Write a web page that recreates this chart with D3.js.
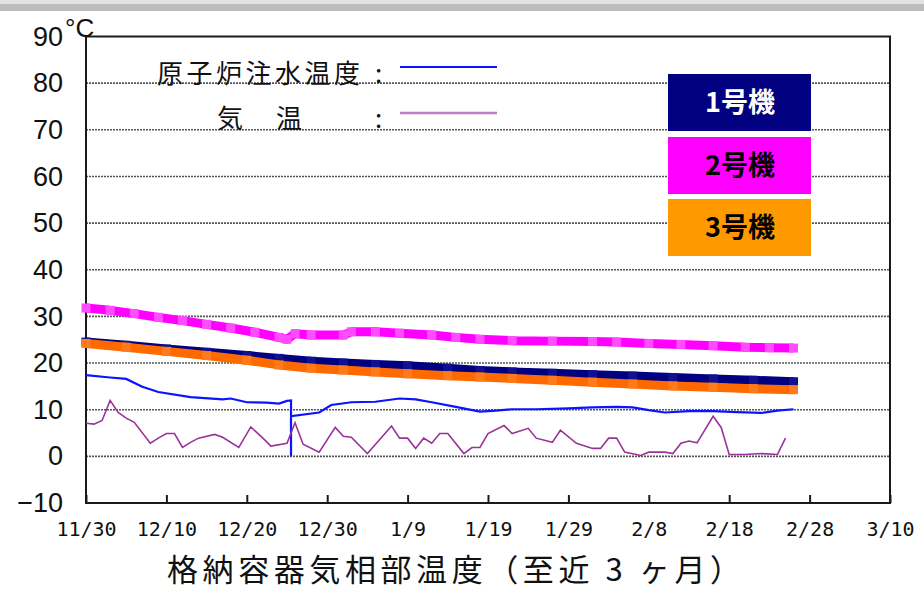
<!DOCTYPE html>
<html>
<head>
<meta charset="utf-8">
<script src="https://cdn.jsdelivr.net/npm/d3@7"></script>
<style>
    body { margin: 0; background: #fff; }
    svg { display: block; }
</style>
</head>
<body>
<div id="chart"></div>
<script>

// days counted from 11/30
var tickDays = [0, 10, 20, 30, 40, 50, 60, 70, 80, 90, 100];
var tickLabels = ["11/30", "12/10", "12/20", "12/30", "1/9", "1/19", "1/29", "2/8", "2/18", "2/28", "3/10"];
var yTicks = [90, 80, 70, 60, 50, 40, 30, 20, 10, 0, -10];

var unitNames = ["1号機", "2号機", "3号機"];

// [day, degC]
var unit1 = [[0, 24.5], [5, 23.8], [10, 23.0], [15, 22.3], [20, 21.6], [24, 21.0], [28, 20.4], [32, 20.0],
    [36, 19.7], [40, 19.4], [45, 18.9], [49, 18.4], [53, 18.1], [58, 17.8], [63, 17.5], [68, 17.2],
    [73, 16.9], [78, 16.6], [83, 16.3], [88, 16.0]];
var unit2 = [[0, 31.8], [3, 31.3], [6, 30.6], [9, 29.8], [12, 29.1], [15, 28.3], [18, 27.5], [21, 26.6],
    [24, 25.5], [25, 25.1], [26, 26.3], [28, 26.0], [32, 26.0], [33, 26.7], [36, 26.7], [39, 26.4],
    [43, 26.0], [46, 25.5], [49, 25.1], [53, 24.8], [58, 24.7], [63, 24.6], [66, 24.5], [70, 24.2],
    [74, 24.0], [78, 23.7], [82, 23.4], [85, 23.3], [88, 23.2]];
var unit3 = [[0, 24.2], [5, 23.4], [10, 22.5], [15, 21.6], [20, 20.6], [24, 19.6], [28, 18.9], [32, 18.5],
    [36, 18.1], [40, 17.7], [45, 17.3], [49, 17.0], [53, 16.7], [58, 16.3], [63, 15.9], [68, 15.5],
    [73, 15.1], [78, 14.8], [83, 14.5], [88, 14.3]];

var injectionWater = [[0, 17.4], [3, 16.9], [5, 16.6], [7, 14.9], [9, 13.8], [13, 12.7], [17, 12.2], [18, 12.4],
    [20, 11.6], [22.5, 11.5], [24, 11.3], [25, 11.9], [25.5, 12.0], [25.5, 0], [25.5, 8.6], [29, 9.4],
    [30.5, 11.0], [33, 11.6], [36, 11.7], [39, 12.4], [41, 12.2], [43, 11.6], [46, 10.6], [49, 9.6],
    [51, 9.8], [53, 10.1], [56, 10.1], [60, 10.3], [63, 10.5], [66, 10.6], [68, 10.5], [70, 9.9],
    [72, 9.4], [75, 9.7], [78, 9.7], [81, 9.5], [84, 9.3], [86, 9.8], [88, 10.1]];

var airTemp = [[0, 7.1], [1, 6.9], [2, 7.7], [3, 12.0], [4, 9.4], [5, 8.2], [6, 7.3], [8, 2.8], [9, 3.9],
    [10, 4.9], [11, 4.9], [12, 1.9], [13, 3.0], [14, 3.9], [16, 4.7], [17, 4.1], [19, 1.9], [20.5, 6.3],
    [22, 3.9], [23, 2.2], [25, 2.8], [26, 7.2], [27, 2.6], [29, 0.9], [31, 6.2], [32, 4.3], [33, 4.1],
    [35, 0.6], [38, 6.5], [39, 3.9], [40, 3.9], [41, 1.7], [42, 3.9], [43, 2.8], [44, 4.9], [45, 4.9],
    [47, 0.6], [48, 1.9], [49, 1.9], [50, 4.9], [52, 6.6], [53, 4.9], [55, 6.0], [56, 3.9], [58, 3.0],
    [59, 5.6], [61, 2.8], [63, 1.7], [64, 1.7], [65, 3.9], [66, 3.9], [67, 0.9], [69, 0.2], [70, 0.9],
    [72, 0.9], [73, 0.6], [74, 2.8], [75, 3.3], [76, 2.9], [78, 8.6], [79, 6.2], [80, 0.4], [82, 0.4],
    [84, 0.6], [86, 0.4], [87, 3.9]];

var unitColors = ["#000080", "#ff00ff", "#ff6a00"];
var unitMarkColors = ["#101090", "#ff4cff", "#ff7a1a"];
var boxColors = ["#000080", "#ff00ff", "#ff9900"];
var boxTextColors = ["#ffffff", "#000000", "#000000"];

var CJK = "'Noto Sans CJK JP', sans-serif";

function TempChart(parentID) {
    var self = this;

    self.svg = d3.select(parentID).append("svg")
        .attr("width", 924)
        .attr("height", 591);

    self.x = d3.scaleLinear()
        .domain([0, 100])
        .range([86, 890]);

    self.y = d3.scaleLinear()
        .domain([-10, 90])
        .range([503, 36.5]);

    self.init();
}

TempChart.prototype.init = function () {
    var self = this;
    var svg = self.svg;

    // grey band at the top of the page
    svg.append("rect").attr("x", 0).attr("y", 0).attr("width", 924).attr("height", 4).attr("fill", "#e2e2e2");
    svg.append("rect").attr("x", 0).attr("y", 4).attr("width", 924).attr("height", 7).attr("fill", "#bdbdbd");

    svg.selectAll(".grid")
        .data(yTicks.filter(function (d) { return d > -10 && d < 90; }))
        .enter().append("line")
        .classed("grid", true)
        .attr("x1", self.x(0))
        .attr("x2", self.x(100))
        .attr("y1", function (d) { return self.y(d); })
        .attr("y2", function (d) { return self.y(d); })
        .style("stroke", "#555")
        .style("stroke-width", 1.6)
        .style("stroke-dasharray", "2,1");

    svg.append("rect")
        .attr("x", self.x(0))
        .attr("y", self.y(90))
        .attr("width", self.x(100) - self.x(0))
        .attr("height", self.y(-10) - self.y(90))
        .style("fill", "none")
        .style("stroke", "#1a1a1a")
        .style("stroke-width", 2);

    var xAxis = d3.axisBottom(self.x)
        .tickValues(tickDays)
        .tickFormat(function (d, i) { return tickLabels[i]; })
        .tickSizeInner(-8)
        .tickSizeOuter(0)
        .tickPadding(19);

    var gx = svg.append("g")
        .attr("transform", "translate(0," + self.y(-10) + ")")
        .call(xAxis);
    gx.select(".domain").remove();
    gx.selectAll("line").style("stroke", "#1a1a1a").style("stroke-width", 2);
    gx.selectAll("text")
        .style("font-family", "'DejaVu Sans Mono', monospace")
        .style("font-size", "20px")
        .style("fill", "#111");

    var yAxis = d3.axisLeft(self.y)
        .tickValues(yTicks)
        .tickSize(0)
        .tickPadding(23);

    var gy = svg.append("g")
        .attr("transform", "translate(" + self.x(0) + ",0)")
        .call(yAxis);
    gy.select(".domain").remove();
    gy.selectAll("text")
        .style("font-family", "'Liberation Sans', Arial, sans-serif")
        .style("font-size", "27px")
        .style("fill", "#111");

    svg.append("text")
        .attr("x", 65)
        .attr("y", 37)
        .style("font-family", "'Liberation Sans', Arial, sans-serif")
        .style("font-size", "26px")
        .style("fill", "#111")
        .text("°C");

    self.drawUnits();
    self.drawThinLines();
    self.drawLegend();

    svg.append("text")
        .attr("x", 167)
        .attr("y", 581)
        .attr("textLength", 574)
        .attr("lengthAdjust", "spacing")
        .style("font-family", CJK)
        .style("font-size", "31px")
        .style("fill", "#111")
        .text("格納容器気相部温度（至近 3 ヶ月）");
};

TempChart.prototype.drawUnits = function () {
    var self = this;

    var line = d3.line()
        .x(function (d) { return self.x(d[0]); })
        .y(function (d) { return self.y(d[1]); });

    // draw order: 2, 1, 3 (orange sits over navy)
    var order = [1, 0, 2];
    var series = [unit1, unit2, unit3];

    order.forEach(function (k) {
        self.svg.append("path")
            .datum(series[k])
            .attr("d", line)
            .style("fill", "none")
            .style("stroke", unitColors[k])
            .style("stroke-width", 9)
            .style("stroke-linejoin", "round");

        self.svg.selectAll(".mark" + k)
            .data(series[k])
            .enter().append("rect")
            .classed("mark" + k, true)
            .attr("x", function (d) { return self.x(d[0]) - 4.5; })
            .attr("y", function (d) { return self.y(d[1]) - 4.5; })
            .attr("width", 9)
            .attr("height", 9)
            .style("fill", unitMarkColors[k]);
    });
};

TempChart.prototype.drawThinLines = function () {
    var self = this;

    var line = d3.line()
        .x(function (d) { return self.x(d[0]); })
        .y(function (d) { return self.y(d[1]); });

    self.svg.append("path")
        .datum(injectionWater)
        .attr("d", line)
        .style("fill", "none")
        .style("stroke", "#0a14ff")
        .style("stroke-width", 2.2);

    self.svg.append("path")
        .datum(airTemp)
        .attr("d", line)
        .style("fill", "none")
        .style("stroke", "#993399")
        .style("stroke-width", 1.6);
};

TempChart.prototype.drawLegend = function () {
    var self = this;
    var svg = self.svg;

    var label = function (x, y, s) {
        svg.append("text")
            .attr("x", x)
            .attr("y", y)
            .style("font-family", CJK)
            .style("font-size", "26px")
            .style("letter-spacing", "3.5px")
            .style("fill", "#111")
            .text(s);
    };

    label(157, 83, "原子炉注水温度");
    label(375, 83, ":");
    label(217, 128, "気");
    label(276, 128, "温");
    label(375, 128, ":");

    svg.append("line")
        .attr("x1", 400).attr("x2", 497)
        .attr("y1", 67).attr("y2", 67)
        .style("stroke", "#0a14ff")
        .style("stroke-width", 2);

    svg.append("line")
        .attr("x1", 400).attr("x2", 497)
        .attr("y1", 113).attr("y2", 113)
        .style("stroke", "#c07cc4")
        .style("stroke-width", 2.5);

    var boxTop = [74, 137, 199];

    var boxes = svg.selectAll(".unitbox")
        .data(unitNames)
        .enter().append("g")
        .classed("unitbox", true)
        .attr("transform", function (d, i) { return "translate(668," + boxTop[i] + ")"; });

    boxes.append("rect")
        .attr("width", 143)
        .attr("height", 57)
        .style("fill", function (d, i) { return boxColors[i]; });

    boxes.append("text")
        .attr("x", 72)
        .attr("y", 38)
        .attr("text-anchor", "middle")
        .style("font-family", CJK)
        .style("font-size", "27px")
        .style("font-weight", "bold")
        .style("fill", function (d, i) { return boxTextColors[i]; })
        .text(function (d) { return d; });
};

new TempChart("#chart");

</script>
</body>
</html>
